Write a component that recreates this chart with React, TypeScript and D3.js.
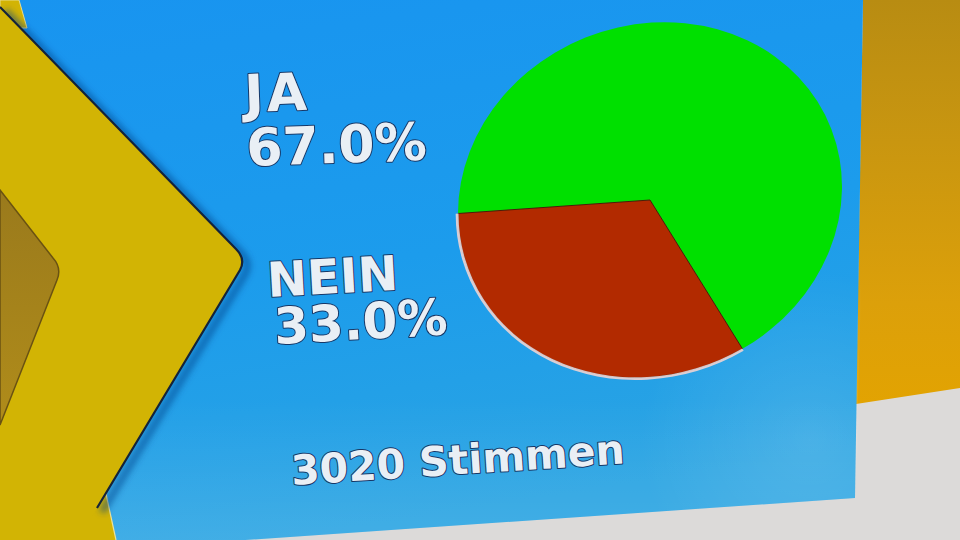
import React from "react";
import * as d3 from "d3";

// ---- data ----
const categories = ["JA", "NEIN"];
const shares = [67.0, 33.0];
const totalVotes = 3020;
const totalLabel = "Stimmen";
const sliceColors = ["#00e000", "#b22a00"];

const W = 960;
const H = 540;
const R = 180;

export default function App() {
  const color = d3.scaleOrdinal<string, string>().domain(categories).range(sliceColors);
  const pieGen = d3
    .pie<number>()
    .sort(null)
    .startAngle(-Math.PI / 2)
    .endAngle((3 * Math.PI) / 2)
    .value((d) => d);
  const arcs = pieGen(shares);
  const arcGen = d3.arc<d3.PieArcDatum<number>>().innerRadius(0).outerRadius(R);
  const rimGen = d3.arc<d3.PieArcDatum<number>>().innerRadius(R - 0.5).outerRadius(R + 2.2);

  const textStyle = {
    fontFamily: "'DejaVu Sans', Verdana, sans-serif",
    fontWeight: 700,
    fill: "#e9eff5",
    stroke: "#173766",
    strokeWidth: 2,
    paintOrder: "stroke",
    strokeLinejoin: "round" as const,
  };

  // label layout (positions only)
  const labelPos = [
    { x: 245, y1: 112, y2: 166, x2: 247, rot: -2, s1: 52, s2: 52, ls: 3 },
    { x: 268, y1: 297, y2: 344, x2: 275, rot: -3.2, s1: 48, s2: 50, ls: 0 },
  ];

  return (
    <svg
      width={W}
      height={H}
      viewBox={`0 0 ${W} ${H}`}
      style={{ position: "absolute", left: 0, top: 0, display: "block" }}
    >
      <defs>
        <linearGradient id="blueGrad" x1="0" y1="0" x2="0.25" y2="1">
          <stop offset="0" stopColor="#1894f0" />
          <stop offset="0.55" stopColor="#1c9cec" />
          <stop offset="1" stopColor="#2aa4e2" />
        </linearGradient>
        <linearGradient id="orangeGrad" x1="0" y1="0" x2="0" y2="1">
          <stop offset="0" stopColor="#b88c12" />
          <stop offset="0.35" stopColor="#c99610" />
          <stop offset="0.75" stopColor="#dca00a" />
          <stop offset="1" stopColor="#e2a302" />
        </linearGradient>
        <linearGradient id="innerGrad" x1="0" y1="0" x2="0" y2="1">
          <stop offset="0" stopColor="#9a7a1c" />
          <stop offset="1" stopColor="#b08c1a" />
        </linearGradient>
        <linearGradient id="bandGrad" x1="0" y1="0" x2="0" y2="1">
          <stop offset="0" stopColor="#ffffff" stopOpacity="0" />
          <stop offset="1" stopColor="#ffffff" stopOpacity="0.12" />
        </linearGradient>
        <radialGradient id="sideGlow" cx="810" cy="440" r="170" gradientUnits="userSpaceOnUse">
          <stop offset="0" stopColor="#ffffff" stopOpacity="0.12" />
          <stop offset="1" stopColor="#ffffff" stopOpacity="0" />
        </radialGradient>
        <filter id="blur3" x="-20%" y="-20%" width="140%" height="140%">
          <feGaussianBlur stdDeviation="3" />
        </filter>
      </defs>

      {/* background (wall / studio) */}
      <rect x={0} y={0} width={W} height={H} fill="#dcdad9" />
      <polygon points="863,0 960,0 960,388 856,404" fill="url(#orangeGrad)" />

      {/* blue panel */}
      <polygon points="0,0 863,0 855,498 100,550 0,550" fill="url(#blueGrad)" />
      <polygon points="0,400 860,400 855,498 100,550 0,550" fill="url(#bandGrad)" />
      <polygon points="640,260 862,260 855,498 640,513" fill="url(#sideGlow)" />

      {/* yellow chevrons */}
      <polygon points="0,0 19,0 27,28 0,28" fill="#d2b404" stroke="#e6dc90" strokeWidth={1} />
      <polygon points="0,478 106,492 116,540 0,540" fill="#d2b404" />
      <line x1={106} y1={494} x2={116} y2={540} stroke="#e8e2a0" strokeWidth={1.2} />
      <path
        d="M0,7 L236,249 Q246,259 240,270 L97,508"
        transform="translate(5,4)"
        fill="none"
        stroke="#0a3f86"
        strokeOpacity={0.55}
        strokeWidth={7}
        filter="url(#blur3)"
      />
      <path d="M0,7 L236,249 Q246,259 240,270 L90,520 L0,520 Z" fill="#d2b404" />
      <path
        d="M0,7 L236,249 Q246,259 240,270 L97,508"
        fill="none"
        stroke="#14233a"
        strokeWidth={2.2}
      />
      <path
        d="M0,190 L53,258 Q62,268 57,280 L0,425 Z"
        fill="url(#innerGrad)"
        stroke="#6a5212"
        strokeWidth={1.5}
      />

      {/* pie */}
      <g transform={`matrix(${192 / R},${-13.5 / R},0,0.985,650,200)`}>
        {arcs.map((a, i) => (
          <path
            key={categories[i]}
            d={arcGen(a) || ""}
            fill={color(categories[i])}
            stroke={i === 1 ? "#4a1a00" : "none"}
            strokeWidth={0.9}
          />
        ))}
        <path d={rimGen(arcs[1]) || ""} fill="#ecd4d4" opacity={0.9} />
      </g>

      {/* labels */}
      {categories.map((c, i) => {
        const p = labelPos[i];
        return (
          <g key={c}>
            <text
              x={p.x}
              y={p.y1}
              fontSize={p.s1}
              letterSpacing={p.ls}
              transform={`rotate(${p.rot},${p.x},${p.y1})`}
              style={textStyle}
            >
              {c}
            </text>
            <text
              x={p.x2}
              y={p.y2}
              fontSize={p.s2}
              transform={`rotate(${p.rot},${p.x2},${p.y2})`}
              style={textStyle}
            >
              {`${shares[i].toFixed(1)}%`}
            </text>
          </g>
        );
      })}
      <text
        x={292}
        y={485}
        fontSize={41}
        transform="rotate(-3.7,292,485)"
        style={textStyle}
      >
        {`${totalVotes} ${totalLabel}`}
      </text>
    </svg>
  );
}
